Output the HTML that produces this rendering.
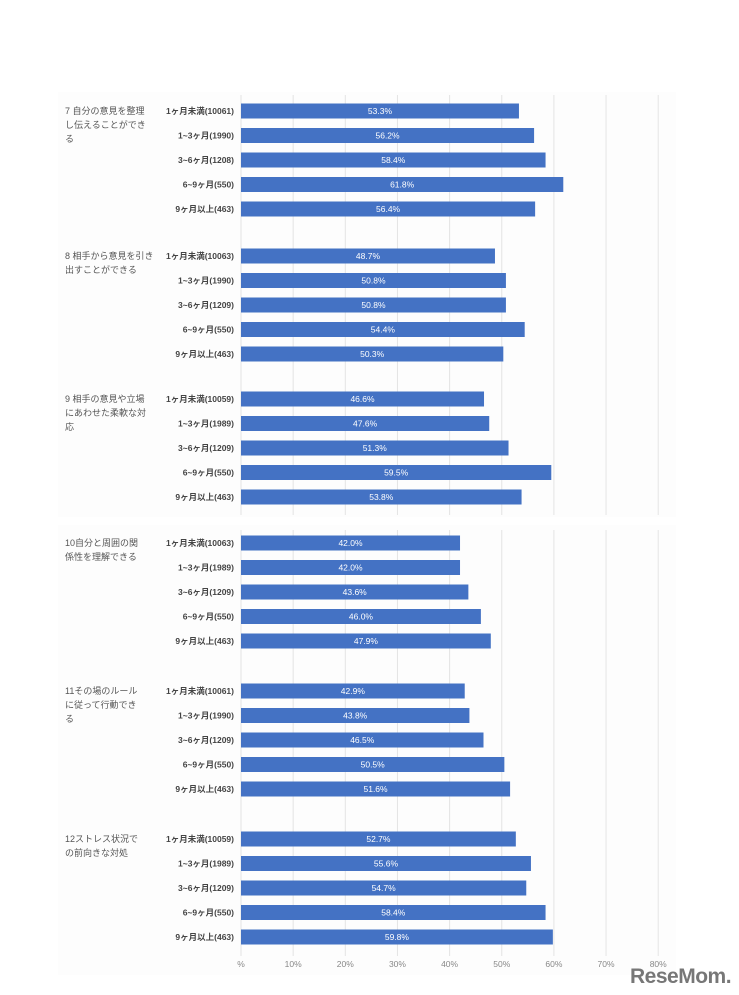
<!DOCTYPE html>
<html><head><meta charset="utf-8"><style>
body{margin:0;background:#fff;}
svg{display:block;font-family:"Liberation Sans","Noto Sans CJK JP",sans-serif;}
</style></head><body>
<svg width="739" height="995">
<rect x="58" y="92" width="618" height="425" fill="#fdfdfd"/>
<rect x="58" y="525" width="618" height="450" fill="#fdfdfd"/>
<g id="grid"></g><g id="bars"></g><g id="labels"></g>
<text x="630" y="983" font-size="21" font-weight="bold" fill="#777" letter-spacing="-0.5">ReseMom.</text>
</svg>
<script>
const groups=["7 自分の意見を整理|し伝えることができ|る","8 相手から意見を引き|出すことができる","9 相手の意見や立場|にあわせた柔軟な対|応","10自分と周囲の関|係性を理解できる","11その場のルール|に従って行動でき|る","12ストレス状況で|の前向きな対処"];
const categories=[
["1ヶ月未満(10061)","1~3ヶ月(1990)","3~6ヶ月(1208)","6~9ヶ月(550)","9ヶ月以上(463)"],
["1ヶ月未満(10063)","1~3ヶ月(1990)","3~6ヶ月(1209)","6~9ヶ月(550)","9ヶ月以上(463)"],
["1ヶ月未満(10059)","1~3ヶ月(1989)","3~6ヶ月(1209)","6~9ヶ月(550)","9ヶ月以上(463)"],
["1ヶ月未満(10063)","1~3ヶ月(1989)","3~6ヶ月(1209)","6~9ヶ月(550)","9ヶ月以上(463)"],
["1ヶ月未満(10061)","1~3ヶ月(1990)","3~6ヶ月(1209)","6~9ヶ月(550)","9ヶ月以上(463)"],
["1ヶ月未満(10059)","1~3ヶ月(1989)","3~6ヶ月(1209)","6~9ヶ月(550)","9ヶ月以上(463)"]];
const values=[[53.3,56.2,58.4,61.8,56.4],[48.7,50.8,50.8,54.4,50.3],[46.6,47.6,51.3,59.5,53.8],[42.0,42.0,43.6,46.0,47.9],[42.9,43.8,46.5,50.5,51.6],[52.7,55.6,54.7,58.4,59.8]];
const ticks=["%","10%","20%","30%","40%","50%","60%","70%","80%"];
const groupY=[111,256,399,543,691,839];
const NS="http://www.w3.org/2000/svg";
const xs=v=>241+v*5.215;
function mk(tag,attrs,parent,txt){const e=document.createElementNS(NS,tag);for(const k in attrs)e.setAttribute(k,attrs[k]);if(txt!==undefined)e.textContent=txt;parent.appendChild(e);return e;}
const grid=document.getElementById('grid'),bars=document.getElementById('bars'),labels=document.getElementById('labels');
ticks.forEach((t,i)=>{
 [[95,515],[530,956]].forEach(r=>{
  const l=mk('line',{x1:xs(i*10),x2:xs(i*10),y1:r[0],y2:r[1],stroke:'#e4e4e4','stroke-width':1},grid);
  
  
 });
 const tx=mk('text',{x:xs(i*10),y:967,'font-size':8.5,fill:'#888','text-anchor':'middle'},labels,t);
 
 
});
groups.forEach((g,gi)=>{
 g.split('|').forEach((line,li)=>{
  const t=mk('text',{x:65,y:groupY[gi]+3+li*14,'font-size':9,fill:'#555'},labels,line);
  
  
 });
 values[gi].forEach((v,ri)=>{
  const cy=groupY[gi]+ri*24.5;
  const b=mk('rect',{x:xs(0),y:cy-7.5,width:xs(v)-xs(0),height:15,fill:'#4472c4'},bars);
  
  
  const vl=mk('text',{x:(xs(0)+xs(v))/2,y:cy+3,'font-size':8.5,fill:'#fff','text-anchor':'middle'},labels,v.toFixed(1)+'%');
  
  
  const cl=mk('text',{x:234,y:cy+3,'font-size':8.5,'font-weight':'bold',fill:'#444','text-anchor':'end'},labels,categories[gi][ri]);
  
  
 });
});
</script>
</body></html>
